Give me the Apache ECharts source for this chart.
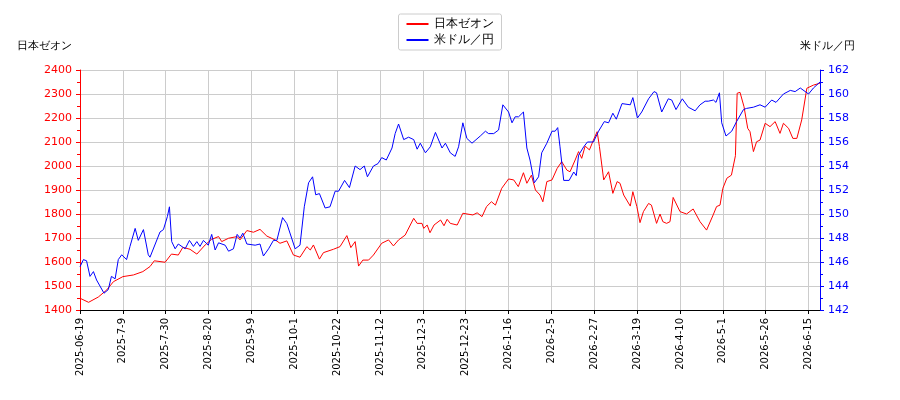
<!DOCTYPE html>
<html><head><meta charset="utf-8">
<script src="https://cdn.jsdelivr.net/npm/echarts@6/dist/echarts.min.js"></script>
<style>html,body{margin:0;padding:0;background:#fff}#c{width:900px;height:400px}</style>
</head><body><div id="c"></div>
<script>
const tickLabels = ['2025-06-19','2025-7-9','2025-7-30','2025-8-20','2025-9-9','2025-10-1','2025-10-22','2025-11-12','2025-12-3','2025-12-23','2026-1-16','2026-2-5','2026-2-27','2026-3-19','2026-4-10','2026-5-1','2026-5-26','2026-6-15'];
// [trading-day index, price]
const zeon = [[0,1449],[3,1432],[6.4,1454],[9.3,1483],[11.7,1518],[15,1539],[18.7,1546],[22,1560],[24.5,1581],[26,1605],[29.8,1599],[32,1633],[34.4,1629],[36,1661],[38.5,1653],[40.9,1633],[43.8,1671],[46,1694],[48.5,1706],[49.6,1685],[52,1699],[55,1706],[56,1692],[58.4,1731],[60.7,1724],[63,1736],[65.4,1708],[68.3,1692],[70,1678],[72.4,1688],[74.7,1629],[77,1620],[79.4,1664],[80.6,1650],[81.7,1671],[83.8,1612],[85.2,1639],[88.7,1653],[91,1664],[93.4,1710],[94.8,1660],[96.3,1685],[97.5,1583],[99,1608],[101,1608],[102.7,1629],[105.6,1678],[108,1692],[109.7,1667],[111.5,1692],[113.8,1712],[116.8,1782],[118,1761],[119.7,1761],[120.3,1740],[121.5,1754],[122.5,1722],[123.9,1754],[126.2,1775],[127.4,1751],[128.5,1778],[129.6,1761],[132,1754],[134,1803],[137.5,1796],[139,1805],[140.7,1789],[142.3,1831],[144,1851],[145.4,1837],[147.6,1907],[150,1946],[151.8,1942],[153.4,1914],[155.2,1972],[156.4,1928],[158,1962],[159.4,1900],[161,1879],[162,1851],[163.4,1935],[165.2,1942],[167,1990],[168.6,2018],[170.4,1983],[171.5,1976],[173.3,2025],[174.5,2060],[175.6,2032],[176.8,2083],[178.3,2067],[179.7,2108],[181,2143],[181.8,2081],[183.3,1942],[185,1976],[186.5,1886],[188,1935],[189,1928],[190.3,1879],[192.6,1833],[193.5,1893],[194.9,1831],[196,1764],[197.2,1810],[199,1844],[200,1837],[201.8,1761],[203,1800],[204,1768],[205.3,1761],[206.5,1768],[207.6,1869],[210,1810],[212.3,1800],[214.6,1821],[217,1768],[219.3,1733],[221.6,1796],[222.8,1831],[224,1837],[225,1907],[226.4,1949],[228,1962],[229.4,2043],[230,2303],[231,2307],[232.4,2247],[233.7,2157],[234.5,2143],[235.7,2060],[236.8,2101],[238,2108],[239.8,2178],[241.5,2164],[243.3,2185],[245,2136],[246.2,2178],[248,2157],[249.5,2115],[250.9,2115],[252.6,2192],[254.4,2324],[256.7,2337],[259,2345]];
const usd = [[0,145.6],[1.2,146.2],[2.3,146.1],[3.5,144.8],[4.7,145.2],[5.8,144.5],[8.4,143.4],[9.9,143.7],[11,144.8],[12.3,144.6],[13.4,146.2],[14.6,146.6],[16.3,146.2],[17.5,147.3],[19.3,148.8],[20.4,147.8],[22.2,148.7],[23.9,146.6],[24.5,146.4],[28,148.5],[29.2,148.7],[30.6,149.8],[31.3,150.6],[32.1,147.7],[33.3,147.1],[34.4,147.5],[36.8,147.1],[38.3,147.8],[39.7,147.3],[40.9,147.7],[42,147.3],[43.2,147.8],[44.9,147.4],[46.1,148.3],[47.3,147],[48.5,147.6],[50.8,147.4],[52,146.9],[53.7,147.1],[55,148.3],[56,148],[57,148.4],[58.4,147.5],[61.3,147.4],[63,147.5],[64.2,146.5],[66,147.1],[67.7,147.8],[68.9,147.8],[70.9,149.7],[72.4,149.2],[75.3,147.1],[77,147.4],[78.5,150.6],[80,152.6],[81.4,153.1],[82.5,151.6],[83.8,151.7],[85.8,150.5],[87.5,150.6],[89.3,151.9],[90.5,151.9],[92.6,152.8],[94.3,152.2],[96.3,154],[98,153.7],[99.5,154],[100.6,153.1],[102.7,154],[104.3,154.2],[105.6,154.7],[107.2,154.5],[109.2,155.5],[110.3,156.7],[111.5,157.5],[113.3,156.2],[115,156.4],[116.8,156.2],[118,155.4],[119.1,155.9],[120.9,155.1],[122.6,155.6],[124.4,156.8],[126.7,155.5],[127.9,155.9],[129.6,155.1],[131.3,154.8],[132.5,155.6],[134,157.6],[135.4,156.3],[137.2,155.9],[140.1,156.5],[141.9,156.9],[143,156.7],[144.8,156.7],[146.5,157],[148,159.1],[150,158.5],[151.2,157.6],[152.3,158.1],[153.5,158.1],[155.2,158.5],[156.4,155.5],[157.5,154.5],[159,152.6],[160.5,153.1],[161.6,155.1],[163.4,155.9],[165.2,156.9],[166.3,156.9],[167.2,157.2],[168,155.6],[169.3,152.8],[171.2,152.8],[172.8,153.5],[173.7,153.2],[174.5,154.9],[176.3,155.6],[177.6,156],[179.7,156],[181.5,156.9],[183.5,157.7],[185,157.6],[186.5,158.4],[187.7,157.9],[189.7,159.2],[192.6,159.1],[193.5,159.7],[195.1,158],[196.6,158.5],[199,159.6],[200.9,160.2],[201.8,160.1],[203.6,158.5],[205.9,159.6],[207.1,159.5],[208.6,158.7],[210.8,159.6],[212.9,158.9],[215.3,158.6],[217,159.1],[218.8,159.4],[219.9,159.4],[221.7,159.5],[222.6,159.3],[223.8,160.1],[224.6,157.6],[226.1,156.5],[228.1,156.9],[229.8,157.7],[232.2,158.7],[233.3,158.8],[235.7,158.9],[238,159.1],[239.8,158.9],[242.1,159.5],[243.6,159.3],[246.2,160],[248.6,160.3],[250.3,160.2],[252.1,160.5],[255,160],[256.7,160.5],[259,161]];
const ft = 'DejaVu Sans';
const chart = echarts.init(document.getElementById('c'));
chart.setOption({
  animation:false,
  textStyle:{fontFamily:ft},
  legend:{top:14,left:'center',orient:'vertical',itemWidth:22,itemHeight:2,itemGap:4,
    borderColor:'#ccc',borderWidth:1,padding:[4,8],borderRadius:2,
    textStyle:{fontFamily:ft,fontSize:12,color:'#000'},
    data:[{name:'日本ゼオン',icon:'rect'},{name:'米ドル／円',icon:'rect'}]},
  grid:{left:80,right:80,top:70,bottom:90},
  xAxis:{type:'value',min:0,max:259,interval:15,
    axisLine:{lineStyle:{color:'#000'}},axisTick:{show:true,length:4,lineStyle:{color:'#000'}},
    splitLine:{show:true,lineStyle:{color:'#ccc'}},
    axisLabel:{rotate:90,fontSize:10,color:'#000',fontFamily:ft,showMaxLabel:false,
      formatter:v=>tickLabels[Math.round(v/15)]||''}},
  yAxis:[
    {type:'value',min:1400,max:2400,interval:100,position:'left',
     name:'日本ゼオン',nameLocation:'end',nameGap:18,nameTextStyle:{align:'right',color:'#000',fontSize:11,padding:[0,8,0,0]},
     axisLine:{show:true,lineStyle:{color:'red'}},axisTick:{show:true,length:4,lineStyle:{color:'red'}},
     minorTick:{show:true,splitNumber:2,length:3,lineStyle:{color:'red'}},
     splitLine:{show:true,lineStyle:{color:'#ccc'}},
     axisLabel:{color:'red',fontSize:11,fontFamily:ft,formatter:v=>String(v)}},
    {type:'value',min:142,max:162,interval:2,position:'right',
     name:'米ドル／円',nameLocation:'end',nameGap:18,nameTextStyle:{align:'left',color:'#000',fontSize:11,padding:[0,0,0,-20]},
     axisLine:{show:true,lineStyle:{color:'blue'}},axisTick:{show:true,length:4,lineStyle:{color:'blue'}},
     minorTick:{show:true,splitNumber:2,length:3,lineStyle:{color:'blue'}},
     splitLine:{show:false},
     axisLabel:{color:'blue',fontSize:11,fontFamily:ft,formatter:v=>String(v)}}
  ],
  series:[
    {name:'日本ゼオン',type:'line',yAxisIndex:0,data:zeon,showSymbol:false,lineStyle:{color:'red',width:1},itemStyle:{color:'red'}},
    {name:'米ドル／円',type:'line',yAxisIndex:1,data:usd,showSymbol:false,lineStyle:{color:'blue',width:1},itemStyle:{color:'blue'}}
  ]
});
</script></body></html>
